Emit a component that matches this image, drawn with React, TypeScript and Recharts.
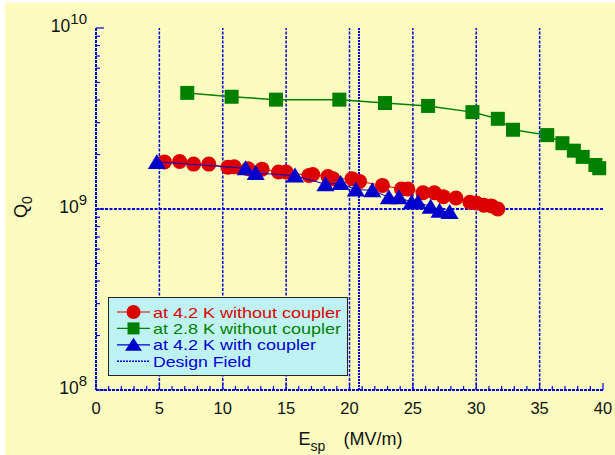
import { ScatterChart, Scatter, XAxis, YAxis, ReferenceLine, Legend } from "recharts";

const RED = "#dd0000";
const GREEN = "#008000";
const BLUE = "#0000cc";
const AXIS = "#0000dd";
const YELLOW = "#fcfcc0";
const LEGEND_BG = "#bff3f3";
const FONT = "'Liberation Sans', Arial, Helvetica, sans-serif";

// Q0 vs peak surface field
const red42E = [5.4, 6.6, 7.7, 8.9, 10.4, 10.9, 12.0, 13.1, 14.4, 15.0, 16.8, 17.1, 18.3, 18.7, 20.2, 20.8, 22.6, 24.1, 24.6, 25.8, 26.7, 27.4, 28.4, 29.5, 30.0, 30.6, 31.2, 31.7];
const red42Q = [1.82e9, 1.83e9, 1.77e9, 1.77e9, 1.7e9, 1.71e9, 1.67e9, 1.66e9, 1.6e9, 1.6e9, 1.53e9, 1.55e9, 1.51e9, 1.47e9, 1.47e9, 1.42e9, 1.35e9, 1.29e9, 1.29e9, 1.23e9, 1.23e9, 1.17e9, 1.15e9, 1.09e9, 1.08e9, 1.05e9, 1.04e9, 1.0e9];

const green28E = [7.2, 10.7, 14.2, 19.2, 22.8, 26.2, 29.7, 31.7, 32.9, 35.6, 36.8, 37.7, 38.4, 39.4, 39.7];
const green28Q = [4.38e9, 4.17e9, 4.02e9, 4.02e9, 3.85e9, 3.71e9, 3.43e9, 3.15e9, 2.74e9, 2.56e9, 2.31e9, 2.1e9, 1.94e9, 1.75e9, 1.68e9];

const blue42E = [4.8, 11.8, 12.6, 15.7, 18.1, 19.3, 20.5, 21.8, 23.1, 23.9, 24.9, 25.4, 26.4, 27.1, 27.9];
const blue42Q = [1.82e9, 1.68e9, 1.58e9, 1.53e9, 1.37e9, 1.39e9, 1.28e9, 1.27e9, 1.16e9, 1.16e9, 1.09e9, 1.09e9, 1.03e9, 0.977e9, 0.963e9];

const designField = 20.75;

const xTicks = [0, 1, 2, 3, 4, 5, 6, 7, 8, 9, 10, 11, 12, 13, 14, 15, 16, 17, 18, 19, 20, 21, 22, 23, 24, 25, 26, 27, 28, 29, 30, 31, 32, 33, 34, 35, 36, 37, 38, 39, 40];
const xMajor = [0, 5, 10, 15, 20, 25, 30, 35, 40];
const xGrid = [5, 10, 15, 20, 25, 30, 35];
const yTicks = [1e8, 2e8, 3e8, 4e8, 5e8, 6e8, 7e8, 8e8, 9e8, 1e9, 2e9, 3e9, 4e9, 5e9, 6e9, 7e9, 8e9, 9e9, 1e10];
const yDecades = [1e8, 1e9, 1e10];
const yExponents = ["8", "9", "10"];
const yGrid = [1e9];

const legendItems = [
  { label: "at 4.2 K without coupler", color: RED, marker: "circle", len: 188 },
  { label: "at 2.8 K without coupler", color: GREEN, marker: "square", len: 188 },
  { label: "at 4.2 K with coupler", color: BLUE, marker: "triangle", len: 163 },
  { label: "Design Field", color: AXIS, marker: "dotted", len: 98 },
];

const toPoints = (xs: number[], ys: number[]) => xs.map((x, i) => ({ x, y: ys[i] }));

const Circle = ({ cx, cy }: any) => <circle cx={cx} cy={cy} r={7.5} fill={RED} />;
const Square = ({ cx, cy }: any) => <rect x={cx - 7} y={cy - 7} width={14} height={14} fill={GREEN} />;
const Triangle = ({ cx, cy }: any) => (
  <polygon points={`${cx},${cy - 8} ${cx - 9},${cy + 7} ${cx + 9},${cy + 7}`} fill={BLUE} />
);

function BottomTick({ x, y, payload }: any) {
  const major = xMajor.includes(payload.value);
  return (
    <g>
      <line x1={x} x2={x} y1={y} y2={y - (major ? 7 : 4)} stroke={AXIS} strokeWidth={1.2} />
      {major && (
        <text x={x} y={y + 24} textAnchor="middle" fontSize={16.5} fill="#111" fontFamily={FONT}>
          {payload.value}
        </text>
      )}
    </g>
  );
}

function TopTick({ x, y, payload }: any) {
  const major = xMajor.includes(payload.value);
  return <line x1={x} x2={x} y1={y} y2={y + (major ? 7 : 4)} stroke={AXIS} strokeWidth={1.2} />;
}

function LeftTick({ x, y, payload }: any) {
  const idx = yDecades.indexOf(payload.value);
  return (
    <g>
      <line x1={x} x2={x + (idx >= 0 ? 8 : 4)} y1={y} y2={y} stroke={AXIS} strokeWidth={1.2} />
      {idx >= 0 && (
        <text x={87} y={y + 4} textAnchor="end" fontSize={17.5} fill="#111" fontFamily={FONT}>
          10
          <tspan dy={-8} fontSize={15}>
            {yExponents[idx]}
          </tspan>
        </text>
      )}
    </g>
  );
}

function RightTick({ x, y, payload }: any) {
  const major = yDecades.includes(payload.value);
  return <line x1={x} x2={x - (major ? 8 : 4)} y1={y} y2={y} stroke={AXIS} strokeWidth={1.2} />;
}

function XLabel({ viewBox }: any) {
  const cx = viewBox.x + viewBox.width / 2;
  return (
    <text y={445} fontSize={18} fill="#111" fontFamily={FONT}>
      <tspan x={cx - 51}>E</tspan>
      <tspan dy={6} fontSize={14}>sp</tspan>
      <tspan x={cx - 6} dy={-6}>(MV/m)</tspan>
    </text>
  );
}

function YLabel() {
  return (
    <text transform="translate(27,207) rotate(-90)" textAnchor="middle" fontSize={18} fill="#111" fontFamily={FONT}>
      Q<tspan dy={5} fontSize={14}>0</tspan>
    </text>
  );
}

function LegendBox() {
  return (
    <div style={{ width: 240, height: 79, boxSizing: "border-box", border: "1.3px solid #222", background: LEGEND_BG }}>
      <svg width={238} height={77} style={{ display: "block" }}>
        {legendItems.map((it, i) => {
          const cy = 14 + i * 16.4;
          return (
            <g key={it.label}>
              {it.marker === "dotted" ? (
                <line x1={8} x2={41} y1={cy} y2={cy} stroke={AXIS} strokeWidth={1.5} strokeDasharray="2 1" />
              ) : (
                <line x1={8} x2={41} y1={cy} y2={cy} stroke={it.color} strokeWidth={1.2} />
              )}
              {it.marker === "circle" && <circle cx={24.5} cy={cy} r={7} fill={it.color} />}
              {it.marker === "square" && <rect x={18.5} y={cy - 6} width={12} height={12} fill={it.color} />}
              {it.marker === "triangle" && (
                <polygon points={`24.5,${cy - 7} 16,${cy + 6} 33,${cy + 6}`} fill={it.color} />
              )}
              <text
                x={44}
                y={cy + 5.5}
                fontSize={15}
                textLength={it.len}
                lengthAdjust="spacingAndGlyphs"
                fill={it.color}
                fontFamily={FONT}
              >
                {it.label}
              </text>
            </g>
          );
        })}
      </svg>
    </div>
  );
}

export default function App() {
  return (
    <div style={{ position: "absolute", left: 0, top: 0, width: 615, height: 455, background: "#fff", fontFamily: FONT }}>
      <div style={{ position: "absolute", left: 5, top: 3, right: 0, bottom: 0, background: YELLOW }} />
      <div style={{ position: "absolute", left: 0, top: 0 }}>
        <ScatterChart width={615} height={455} margin={{ top: 28, right: 12, left: 0, bottom: 0 }}>
          <XAxis
            dataKey="x"
            type="number"
            domain={[0, 40]}
            ticks={xTicks}
            interval={0}
            height={65}
            tickSize={0}
            tickMargin={0}
            tick={<BottomTick />}
            axisLine={{ stroke: AXIS, strokeWidth: 2, strokeDasharray: "3 1" }}
            label={<XLabel />}
          />
          <XAxis
            xAxisId="top"
            orientation="top"
            type="number"
            domain={[0, 40]}
            ticks={xTicks}
            interval={0}
            height={0}
            tickSize={0}
            tickMargin={0}
            tick={<TopTick />}
            axisLine={{ stroke: AXIS, strokeWidth: 2, strokeDasharray: "3 1" }}
          />
          <YAxis
            dataKey="y"
            type="number"
            scale="log"
            domain={[1e8, 1e10]}
            allowDataOverflow
            ticks={yTicks}
            interval={0}
            width={96}
            tickSize={0}
            tickMargin={0}
            tick={<LeftTick />}
            axisLine={{ stroke: AXIS, strokeWidth: 2, strokeDasharray: "3 1" }}
            label={<YLabel />}
          />
          <YAxis
            yAxisId="right"
            orientation="right"
            type="number"
            scale="log"
            domain={[1e8, 1e10]}
            allowDataOverflow
            ticks={yTicks}
            interval={0}
            width={0}
            tickSize={0}
            tickMargin={0}
            tick={<RightTick />}
            axisLine={{ stroke: AXIS, strokeWidth: 1.5 }}
          />
          {xGrid.map((v) => (
            <ReferenceLine key={v} x={v} stroke={AXIS} strokeWidth={1.5} strokeDasharray="3 1.5" />
          ))}
          {yGrid.map((v) => (
            <ReferenceLine key={v} y={v} stroke={AXIS} strokeWidth={2} strokeDasharray="3 1.5" />
          ))}
          <ReferenceLine x={designField} stroke={AXIS} strokeWidth={2} strokeDasharray="2 1" />
          <Legend
            content={<LegendBox />}
            layout="vertical"
            align="center"
            verticalAlign="middle"
            wrapperStyle={{ left: 108, top: 297, width: 240, height: 79 }}
          />
          <Scatter data={toPoints(red42E, red42Q)} shape={<Circle />} line={{ stroke: RED, strokeWidth: 1 }} isAnimationActive={false} />
          <Scatter data={toPoints(green28E, green28Q)} shape={<Square />} line={{ stroke: GREEN, strokeWidth: 1.5 }} isAnimationActive={false} />
          <Scatter data={toPoints(blue42E, blue42Q)} shape={<Triangle />} line={{ stroke: BLUE, strokeWidth: 1 }} isAnimationActive={false} />
        </ScatterChart>
      </div>
    </div>
  );
}
